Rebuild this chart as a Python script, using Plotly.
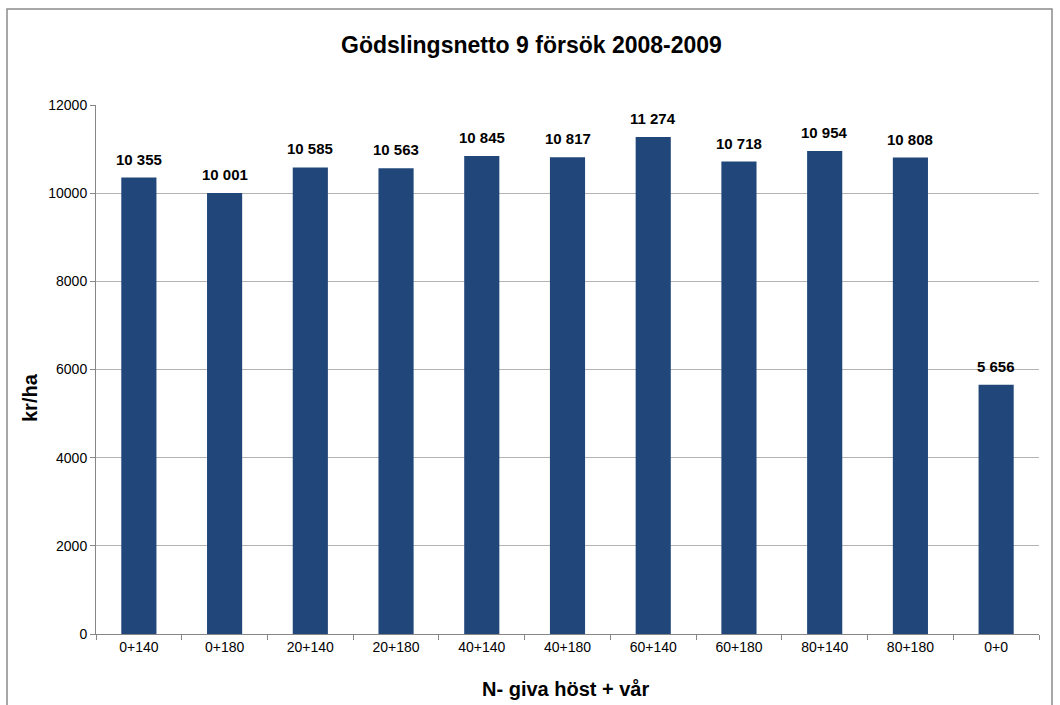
import plotly.graph_objects as go

categories = ["0+140", "0+180", "20+140", "20+180", "40+140", "40+180",
              "60+140", "60+180", "80+140", "80+180", "0+0"]
values = [10355, 10001, 10585, 10563, 10845, 10817, 11274, 10718, 10954, 10808, 5656]
y_ticks = [0, 2000, 4000, 6000, 8000, 10000, 12000]

labels = [f"{v:,}".replace(",", " ") for v in values]

W, H = 1060, 705
L, R, T, B = 96, 1039, 105, 634
FONT = "Liberation Sans, Arial"

fig = go.Figure(go.Bar(
    x=categories, y=values,
    marker=dict(color="#21477A", line=dict(width=0)),
    width=0.41,
))

for c, v, s in zip(categories, values, labels):
    fig.add_annotation(x=c, y=v, text=f"<b>{s}</b>", showarrow=False,
                       yanchor="bottom", yshift=8,
                       font=dict(family=FONT, size=15, color="#000000"))

pw, ph = R - L, B - T
def px(x): return (x - L) / pw
def py(y): return 1 - (y - T) / ph

fig.add_shape(type="rect", xref="paper", yref="paper",
              x0=px(7), x1=px(1052), y0=py(715), y1=py(9),
              line=dict(color="#8c8c8c", width=1.5), fillcolor="rgba(0,0,0,0)", layer="below")

# title and axis titles
fig.add_annotation(xref="paper", yref="paper", x=px(531), y=py(45),
                   text="<b>Gödslingsnetto 9 försök 2008-2009</b>", showarrow=False,
                   xanchor="center", yanchor="middle",
                   font=dict(family=FONT, size=23, color="#000000"))
fig.add_annotation(xref="paper", yref="paper", x=px(565), y=py(689),
                   text="<b>N- giva höst + vår</b>", showarrow=False,
                   xanchor="center", yanchor="middle",
                   font=dict(family=FONT, size=20, color="#000000"))
fig.add_annotation(xref="paper", yref="paper", x=px(30), y=py(398),
                   text="<b>kr/ha</b>", showarrow=False, textangle=-90,
                   xanchor="center", yanchor="middle",
                   font=dict(family=FONT, size=20, color="#000000"))

fig.update_layout(
    width=W, height=H,
    margin=dict(l=L, r=W - R, t=T, b=H - B, autoexpand=False),
    paper_bgcolor="white", plot_bgcolor="white",
    font=dict(family=FONT, size=14, color="#000000"),
    showlegend=False, bargap=0.59,
)
fig.update_xaxes(
    automargin=False,
    showline=True, linecolor="#868686", linewidth=1,
    ticks="outside", ticklen=5, tickcolor="#868686", tickson="boundaries",
    tickfont=dict(size=14), showgrid=False,
)
fig.update_yaxes(
    automargin=False,
    range=[0, 12000], tickvals=y_ticks, ticktext=[str(v) for v in y_ticks],
    showline=True, linecolor="#868686", linewidth=1,
    ticks="outside", ticklen=5, tickcolor="#868686",
    showgrid=True, gridcolor="#b3b3b3", gridwidth=1,
    tickfont=dict(size=14), zeroline=False,
)

fig.write_html("out.html",
               config={"displayModeBar": False},
               post_script="document.body.style.margin='0';document.body.style.overflow='hidden';")
